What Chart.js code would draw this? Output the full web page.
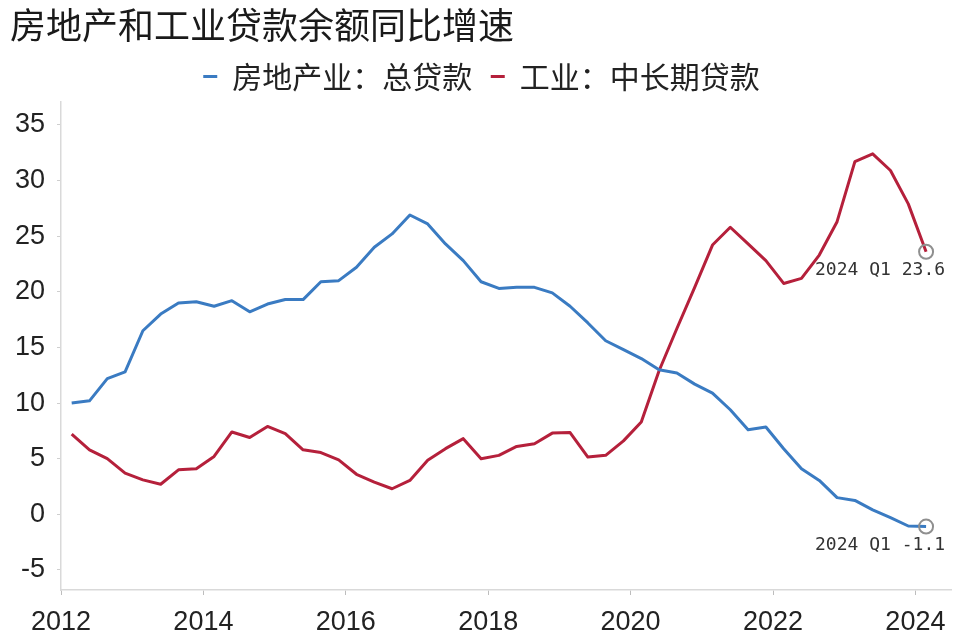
<!DOCTYPE html>
<html>
<head>
<meta charset="utf-8">
<script src="https://cdn.jsdelivr.net/npm/chart.js@4.4.1/dist/chart.umd.min.js"></script>
<style>
  html, body { margin: 0; padding: 0; background: #fff; }
</style>
</head>
<body>
<canvas id="chart" width="960" height="635"></canvas>
<script>
// quarterly categories
const quarters = [
  '2012Q1', '2012Q2', '2012Q3', '2012Q4',
  '2013Q1', '2013Q2', '2013Q3', '2013Q4',
  '2014Q1', '2014Q2', '2014Q3', '2014Q4',
  '2015Q1', '2015Q2', '2015Q3', '2015Q4',
  '2016Q1', '2016Q2', '2016Q3', '2016Q4',
  '2017Q1', '2017Q2', '2017Q3', '2017Q4',
  '2018Q1', '2018Q2', '2018Q3', '2018Q4',
  '2019Q1', '2019Q2', '2019Q3', '2019Q4',
  '2020Q1', '2020Q2', '2020Q3', '2020Q4',
  '2021Q1', '2021Q2', '2021Q3', '2021Q4',
  '2022Q1', '2022Q2', '2022Q3', '2022Q4',
  '2023Q1', '2023Q2', '2023Q3', '2023Q4',
  '2024Q1'
];

// 房地产业：总贷款 (%)
const realEstate = [
  10.0, 10.2, 12.2, 12.8,
  16.5, 18.0, 19.0, 19.1,
  18.7, 19.2, 18.2, 18.9,
  19.3, 19.3, 20.9, 21.0,
  22.2, 24.0, 25.2, 26.9,
  26.1, 24.3, 22.8, 20.9,
  20.3, 20.4, 20.4, 19.9,
  18.7, 17.2, 15.6, 14.8,
  14.0, 13.0, 12.7, 11.7,
  10.9, 9.4, 7.6, 7.85,
  5.9, 4.1, 3.05, 1.5,
  1.25, 0.4, -0.3, -1.05,
  -1.1
];

// 工业：中长期贷款 (%)
const industry = [
  7.2, 5.8, 5.0, 3.7,
  3.1, 2.7, 4.0, 4.1,
  5.2, 7.4, 6.9, 7.9,
  7.25, 5.8, 5.55, 4.9,
  3.6, 2.9, 2.3, 3.05,
  4.85, 5.9, 6.8, 5.0,
  5.3, 6.1, 6.35, 7.3,
  7.35, 5.15, 5.3, 6.6,
  8.3, 12.9, 16.7, 20.4,
  24.2, 25.8, 24.3, 22.8,
  20.75, 21.2, 23.3, 26.3,
  31.7, 32.4, 30.9, 27.9,
  23.6
];

const xTicks = [2012, 2014, 2016, 2018, 2020, 2022, 2024];
const yTicks = [-5, 0, 5, 10, 15, 20, 25, 30, 35];

const lastIdx = quarters.length - 1;

// place each quarter on the year axis (first point of the year sits just after the tick)
function quarterPos(label) {
    const year = parseInt(label.slice(0, 4), 10);
    const q = parseInt(label.slice(5), 10);
    return year + (q - 1) / 4 + 0.15;
}

function toPoints(values) {
    return values.map((v, i) => ({ x: quarterPos(quarters[i]), y: v }));
}

// value label under the last point of each line
const endLabels = {
    id: 'endLabels',
    afterDatasetsDraw(chart) {
        const ctx = chart.ctx;
        const lastLabel = quarters[lastIdx].replace('Q', ' Q');
        ctx.save();
        ctx.font = '18px "DejaVu Sans Mono", "Liberation Mono", monospace';
        ctx.fillStyle = '#333';
        ctx.textAlign = 'right';
        ctx.textBaseline = 'middle';
        chart.data.datasets.forEach((ds, i) => {
            const pt = chart.getDatasetMeta(i).data[lastIdx];
            if (!pt) return;
            const v = ds.data[lastIdx].y;
            ctx.fillText(`${lastLabel} ${v.toFixed(1)}`, pt.x + 19, pt.y + 19);
        });
        ctx.restore();
    }
};

const lastPointOnly = (ctx) => (ctx.dataIndex === lastIdx ? 7 : 0);

new Chart(document.getElementById('chart').getContext('2d'), {
    type: 'line',
    data: {
        datasets: [
            {
                label: '房地产业：总贷款',
                data: toPoints(realEstate),
                borderColor: '#3a7bc2',
                backgroundColor: '#3a7bc2',
                borderWidth: 3,
                borderJoinStyle: 'round',
                tension: 0,
                pointRadius: lastPointOnly,
                pointBorderColor: '#8f8f8f',
                pointBorderWidth: 2,
                pointBackgroundColor: 'rgba(0,0,0,0)',
            },
            {
                label: '工业：中长期贷款',
                data: toPoints(industry),
                borderColor: '#b5203b',
                backgroundColor: '#b5203b',
                borderWidth: 3,
                borderJoinStyle: 'round',
                tension: 0,
                pointRadius: lastPointOnly,
                pointBorderColor: '#8f8f8f',
                pointBorderWidth: 2,
                pointBackgroundColor: 'rgba(0,0,0,0)',
            },
        ],
    },
    options: {
        responsive: false,
        animation: false,
        devicePixelRatio: 1,
        layout: {
            padding: { left: 10, right: 7, top: 0, bottom: 0 },
        },
        plugins: {
            title: {
                display: true,
                text: '房地产和工业贷款余额同比增速',
                align: 'start',
                color: '#1a1a1a',
                font: { size: 36, family: '"Noto Sans CJK SC", sans-serif', weight: 'normal', lineHeight: 1.0 },
                padding: { top: 7, bottom: 0 },
            },
            legend: {
                display: true,
                position: 'top',
                align: 'center',
                labels: {
                    boxWidth: 14,
                    boxHeight: 3,
                    padding: 18.5,
                    color: '#222',
                    font: { size: 30, family: '"Noto Sans CJK SC", sans-serif' },
                    generateLabels(chart) {
                        const items = Chart.defaults.plugins.legend.labels.generateLabels(chart);
                        return items.map(it => ({ ...it, lineWidth: 0, fillStyle: it.strokeStyle }));
                    },
                },
            },
            tooltip: { enabled: false },
        },
        scales: {
            x: {
                type: 'linear',
                min: 2012,
                max: 2024.5,
                afterBuildTicks: (axis) => { axis.ticks = xTicks.map(v => ({ value: v })); },
                afterFit: (scale) => { scale.height = 45; },
                ticks: {
                    autoSkip: false,
                    maxRotation: 0,
                    padding: 11,
                    color: '#222',
                    font: { size: 27, family: '"Liberation Sans", Arial, sans-serif' },
                    callback: (v) => String(v),
                },
                grid: {
                    display: true,
                    drawOnChartArea: false,
                    drawTicks: true,
                    tickLength: 5,
                    color: '#bdbdbd',
                },
                border: { display: true, color: '#d9d9d9', width: 1.5 },
            },
            y: {
                type: 'linear',
                min: -6.8,
                max: 37.1,
                afterBuildTicks: (axis) => { axis.ticks = yTicks.map(v => ({ value: v })); },
                afterFit: (scale) => { scale.width = 51; },
                ticks: {
                    padding: 12,
                    color: '#222',
                    font: { size: 27, family: '"Liberation Sans", Arial, sans-serif' },
                    callback: (v) => String(v),
                },
                grid: {
                    display: true,
                    drawOnChartArea: false,
                    drawTicks: true,
                    tickLength: 4,
                    color: '#cfcfcf',
                },
                border: { display: true, color: '#d9d9d9', width: 1.5 },
            },
        },
    },
    plugins: [endLabels],
});
</script>
</body>
</html>
